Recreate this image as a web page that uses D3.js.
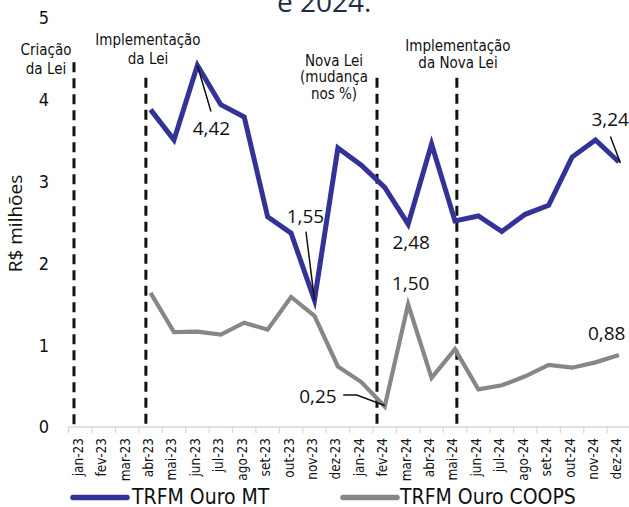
<!DOCTYPE html>
<html><head><meta charset="utf-8">
<script src="https://cdn.jsdelivr.net/npm/d3@7"></script>
<style>
html,body{margin:0;padding:0;background:#fff;}
svg{display:block;}
</style></head>
<body>
<svg id="chart" width="629" height="507"></svg>
<script>
const months = ["jan-23","fev-23","mar-23","abr-23","mai-23","jun-23","jul-23","ago-23","set-23","out-23","nov-23","dez-23",
                "jan-24","fev-24","mar-24","abr-24","mai-24","jun-24","jul-24","ago-24","set-24","out-24","nov-24","dez-24"];
const seriesNames = ["TRFM Ouro MT","TRFM Ouro COOPS"];
const valuesMT = [null,null,null,3.88,3.51,4.42,3.94,3.79,2.57,2.37,1.55,3.41,3.20,2.93,2.48,3.46,2.52,2.58,2.39,2.60,2.71,3.30,3.51,3.24];
const valuesCOOPS = [null,null,null,1.64,1.16,1.165,1.13,1.275,1.19,1.59,1.36,0.74,0.55,0.25,1.50,0.60,0.95,0.46,0.51,0.62,0.76,0.725,0.79,0.88];
const yTicks = [0,1,2,3,4,5];
const events = [
  {month:"jan-23", shift:-0.27, top:4.46, lines:["Criação","da Lei"]},
  {month:"abr-23", shift:-0.2, top:4.27, lines:["Implementação","da Lei"]},
  {month:"fev-24", shift:-0.33, top:4.27, lines:["Nova Lei","(mudança","nos %)"]},
  {month:"mai-24", shift:0.08, top:4.27, lines:["Implementação","da Nova Lei"]}
];
const valueLabels = [
  {series:0, month:"jun-23", text:"4,42"},
  {series:0, month:"nov-23", text:"1,55"},
  {series:0, month:"mar-24", text:"2,48"},
  {series:1, month:"mar-24", text:"1,50"},
  {series:1, month:"fev-24", text:"0,25"},
  {series:0, month:"dez-24", text:"3,24"},
  {series:1, month:"dez-24", text:"0,88"}
];

const COND = "'DejaVu Sans Condensed','DejaVu Sans',sans-serif";
const OPEN = "'Open Sans','Noto Sans',sans-serif";
const colors = ["#333397","#878787"];

const svg = d3.select("#chart");
const x = d3.scaleBand().domain(months).range([68.6, 630.6]);
const cx = m => x(m) + x.bandwidth()/2;
const y = d3.scaleLinear().domain([0,5]).range([427,18]);
const xi = d3.scaleLinear().domain([0,1]).range([cx(months[0]), cx(months[1])]);

// title remnant
svg.append("text").attr("x",277).attr("y",12).attr("font-family",OPEN).attr("font-size",28)
  .attr("fill","#1f2d4d").text("e 2024.");

// x axis line + ticks
svg.append("line").attr("x1",x.range()[0]).attr("x2",629).attr("y1",y(0)).attr("y2",y(0))
  .attr("stroke","#d9d9d9").attr("stroke-width",1.5);
svg.selectAll(".xt").data(months).enter().append("line")
  .attr("x1",d=>x(d)).attr("x2",d=>x(d)).attr("y1",y(0)).attr("y2",y(0)+6)
  .attr("stroke","#d9d9d9").attr("stroke-width",1.3);
svg.selectAll(".xl").data(months).enter().append("text")
  .attr("transform",d=>`translate(${cx(d)+2.5},438) rotate(-90)`)
  .attr("text-anchor","end").attr("font-family",COND).attr("font-size",13.5)
  .attr("fill","#111").text(d=>d);

// y tick labels
svg.selectAll(".yl").data(yTicks).enter().append("text")
  .attr("x",49).attr("y",d=>y(d)).attr("dy","0.36em").attr("text-anchor","end")
  .attr("font-family",COND).attr("font-size",18).attr("fill","#111").text(d=>d);
svg.append("text").attr("transform",`translate(22,${(y(0)+y(5))/2+1}) rotate(-90)`)
  .attr("text-anchor","middle").attr("font-family",OPEN).attr("font-size",19).attr("fill","#111")
  .text("R$ milhões");

// event dashed lines
events.forEach(ev => {
  const ex = xi(months.indexOf(ev.month) + ev.shift);
  svg.append("line").attr("x1",ex).attr("x2",ex).attr("y1",y(ev.top)).attr("y2",y(0))
    .attr("stroke","#111").attr("stroke-width",3).attr("stroke-dasharray","10,6");
});
// event texts
const evText = [
  {cx:46, base:[55,74]},
  {cx:148, base:[44.5,64.3]},
  {cx:334, base:[65.7,82.3,98.9]},
  {cx:458, base:[51,67.8]}
];
events.forEach((ev,i) => {
  ev.lines.forEach((ln,j) => {
    svg.append("text").attr("x",evText[i].cx).attr("y",evText[i].base[j]).attr("text-anchor","middle")
      .attr("font-family",COND).attr("font-size",15).attr("fill","#111").text(ln);
  });
});

// lines
const series = [valuesMT, valuesCOOPS];
const line = d3.line().defined(d=>d.v!=null).x(d=>cx(d.m)).y(d=>y(d.v));
[1,0].forEach(s => {
  svg.append("path").datum(months.map((m,i)=>({m, v:series[s][i]})))
    .attr("d",line).attr("fill","none").attr("stroke",colors[s])
    .attr("stroke-width", s===0 ? 5 : 4.2).attr("stroke-linejoin","miter").attr("stroke-miterlimit",10);
});

// value labels + leaders
const pt = lb => ({px: cx(lb.month), py: y(series[lb.series][months.indexOf(lb.month)])});
const lbl = (tx,ty,anchor,text) => svg.append("text").attr("x",tx).attr("y",ty).attr("text-anchor",anchor)
  .attr("font-family",OPEN).attr("font-size",19).attr("fill","#111").text(text);
const leader = pts => svg.append("path").attr("d",d3.line()(pts)).attr("fill","none")
  .attr("stroke","#111").attr("stroke-width",1.5);
valueLabels.forEach(lb => {
  const {px,py} = pt(lb);
  if (lb.text==="4,42") { lbl(px+14,py+70,"middle",lb.text); leader([[px,py],[px+13.6,py+46]]); }
  else if (lb.text==="1,55") { lbl(px-9,py-77.5,"middle",lb.text); leader([[px-8.5,py-68.5],[px,py]]); }
  else if (lb.text==="2,48") { lbl(px+3,py+25,"middle",lb.text); }
  else if (lb.text==="1,50") { lbl(px+2.5,py-14,"middle",lb.text); }
  else if (lb.text==="0,25") { lbl(px-48,py-4,"end",lb.text); leader([[px-41.5,py-11.5],[px-28,py-11.5],[px,py-1]]); }
  else if (lb.text==="3,24") { lbl(px-27.5,py-35.5,"start",lb.text); leader([[px-8.5,py-25.5],[px+1.5,py+1]]); }
  else if (lb.text==="0,88") { lbl(px-31,py-15,"start",lb.text); }
});

// legend
const legX = [[73,127,132],[343,397,400]];
seriesNames.forEach((n,i) => {
  svg.append("line").attr("x1",legX[i][0]).attr("x2",legX[i][1]).attr("y1",497.5).attr("y2",497.5)
    .attr("stroke",colors[i]).attr("stroke-width",5.5).attr("stroke-linecap","round");
  svg.append("text").attr("x",legX[i][2]).attr("y",503.5).attr("font-family","'Liberation Sans Narrow',"+COND)
    .attr("font-size",21).attr("fill","#111").text(n);
});
</script>
</body></html>
